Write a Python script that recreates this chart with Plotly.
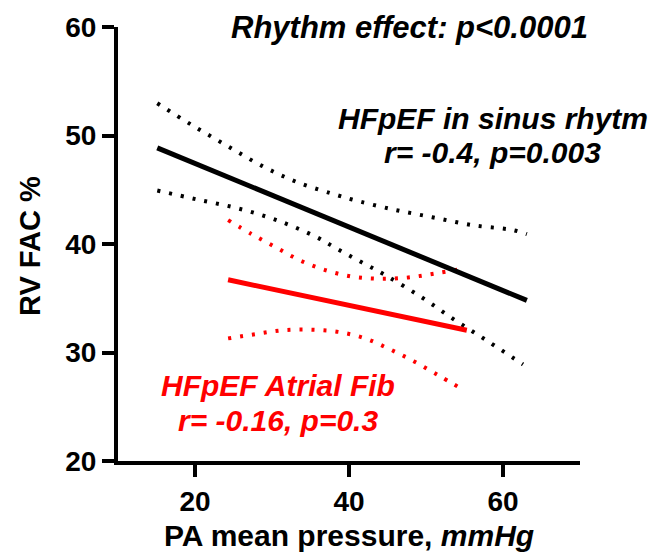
import plotly.graph_objects as go

# Sinus rhythm regression (black)
sinus_fit_x = [15.1, 63.1]
sinus_fit_y = [48.86, 34.8]
sinus_up_x = [15.1, 19.6, 24.2, 28.7, 33.4, 38.6, 40.4, 45.6, 50.8, 56.0, 61.3, 63.1]
sinus_up_y = [52.97, 50.96, 49.04, 47.2, 45.66, 44.47, 44.1, 43.2, 42.47, 41.74, 41.28, 40.9]
sinus_lo_x = [15.1, 20.3, 25.5, 30.6, 35.6, 38.6, 41.7, 44.8, 49.4, 53.8, 58.2, 62.6]
sinus_lo_y = [44.93, 44.1, 43.3, 42.2, 40.7, 39.5, 38.3, 37.1, 35.1, 32.97, 30.96, 28.9]

# Atrial fibrillation regression (red)
af_fit_x = [24.3, 55.3]
af_fit_y = [36.7, 32.05]
af_up_x = [24.3, 27.4, 30.5, 33.6, 36.9, 40.4, 43.8, 47.5, 51.0, 54.7]
af_up_y = [42.2, 40.9, 39.7, 38.5, 37.6, 37.0, 36.8, 36.9, 37.26, 37.7]
af_lo_x = [24.3, 27.9, 31.4, 35.1, 38.6, 42.1, 45.3, 48.4, 51.6, 54.5]
af_lo_y = [31.3, 31.7, 32.05, 32.1, 31.9, 31.3, 30.3, 29.2, 27.9, 26.7]

x_ticks = [20, 40, 60]
y_ticks = [20, 30, 40, 50, 60]

FONT = "Liberation Sans, Arial, sans-serif"
RED = "#ff0000"
DOT = "3px,9px"

fig = go.Figure()
for xs, ys, col in [(sinus_up_x, sinus_up_y, "black"), (sinus_lo_x, sinus_lo_y, "black"),
                    (af_up_x, af_up_y, RED), (af_lo_x, af_lo_y, RED)]:
    fig.add_trace(go.Scatter(x=xs, y=ys, mode="lines",
                             line=dict(color=col, width=4, dash=DOT, shape="spline"),
                             hoverinfo="skip", showlegend=False))
fig.add_trace(go.Scatter(x=sinus_fit_x, y=sinus_fit_y, mode="lines",
                         line=dict(color="black", width=5), showlegend=False))
fig.add_trace(go.Scatter(x=af_fit_x, y=af_fit_y, mode="lines",
                         line=dict(color=RED, width=5), showlegend=False))

ann = [
    ("<b><i>Rhythm effect: p<0.0001</i></b>", 47.8, 60.0, "black", 31),
    ("<b><i>HFpEF in sinus rhytm</i></b>", 58.7, 51.6, "black", 30),
    ("<b><i>r= -0.4, p=0.003</i></b>", 58.7, 48.4, "black", 30),
    ("<b><i>HFpEF Atrial Fib</i></b>", 30.8, 26.94, RED, 30),
    ("<b><i>r= -0.16, p=0.3</i></b>", 30.8, 23.74, RED, 30),
]
for t, x, y, c, s in ann:
    fig.add_annotation(text=t, x=x, y=y, xref="x", yref="y", showarrow=False,
                       font=dict(family=FONT, size=s, color=c),
                       xanchor="center", yanchor="middle")

# axis titles placed by pixel position converted to paper coordinates
L, R, T, B = 118, 580, 23, 461
def px2paper(px, py):
    return (px - L) / (R - L), (B - py) / (B - T)

ax_, ay_ = px2paper(30, 244)
fig.add_annotation(text="<b>RV FAC %</b>", x=ax_, y=ay_, xref="paper", yref="paper",
                   showarrow=False, textangle=-90, xanchor="center", yanchor="middle",
                   font=dict(family=FONT, size=29, color="black"))
bx_, by_ = px2paper(349, 536)
fig.add_annotation(text="<b>PA mean pressure, </b><b><i>mmHg</i></b>",
                   x=bx_, y=by_, xref="paper", yref="paper", showarrow=False,
                   xanchor="center", yanchor="middle",
                   font=dict(family=FONT, size=30, color="black"))

fig.update_layout(
    width=660, height=553,
    margin=dict(l=L, r=660 - R, t=T, b=553 - B),
    paper_bgcolor="white", plot_bgcolor="white",
    font=dict(family=FONT, color="black"),
    xaxis=dict(range=[10, 70], tickvals=x_ticks, ticks="outside", ticklen=12,
               tickwidth=4, tickcolor="black", showline=True, linewidth=4,
               linecolor="black", showgrid=False, zeroline=False,
               tickfont=dict(family=FONT, size=28, color="black", weight="bold")),
    yaxis=dict(range=[20, 60], tickvals=y_ticks, ticks="outside", ticklen=12,
               tickwidth=4, tickcolor="black", showline=True, linewidth=4,
               linecolor="black", showgrid=False, zeroline=False,
               tickfont=dict(family=FONT, size=28, color="black", weight="bold")),
)
fig.write_html("out.html")
